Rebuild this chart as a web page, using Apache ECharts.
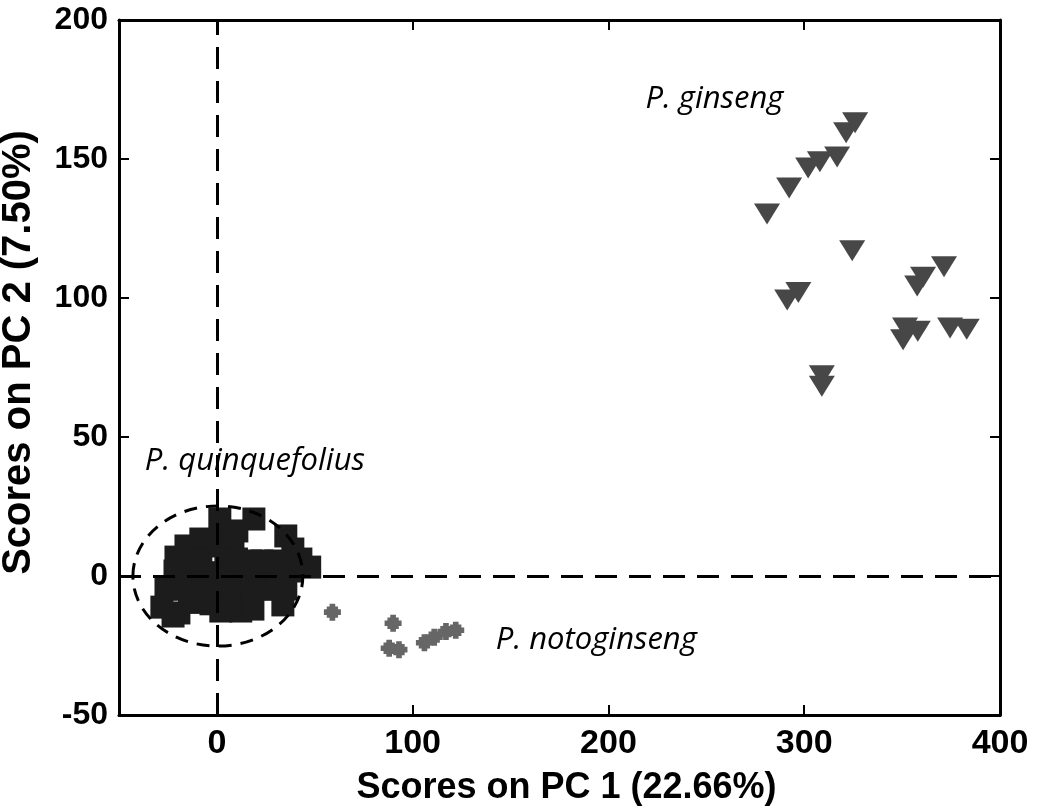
<!DOCTYPE html>
<html><head><meta charset="utf-8">
<script src="https://cdn.jsdelivr.net/npm/echarts@6/dist/echarts.min.js"></script>
<style>html,body{margin:0;padding:0;background:#fff}#c{width:1050px;height:812px}</style>
</head><body><div id="c"></div>
<script>
// ---- data (PC1, PC2 scores) ----
const ginseng = [
  [281,130.2],[292.3,139.6],[302,146.8],[308,149],[316.8,150.7],[321.4,159.4],[326,163],
  [324.5,117],[297,102],[291.3,99.3],[309,72],[309,68.3],
  [360.7,107.5],[357.7,104.3],[371.4,111.2],
  [351.5,89.2],[358,88],[350.5,85],[374.5,89.2],[383,88.8]
];
const notoginseng = [
  [59,-13],[90,-17],[88,-26],[93,-26.5],[106,-24],[111,-22],[117,-20],[122,-19.5]
];
const quinquefolius = [
  [1.5,20.5],[18.9,20.5],[10.2,16.2],[-8.2,13.3],[3.1,15.5],[-15.8,10.8],[-3.1,10.8],[8.2,10.8],
  [38.8,9.7],[35.2,14.4],[-20.9,6.8],[-8.2,6.1],[4.6,6.1],[17.3,5.4],[30.1,5.4],[42.9,6.1],
  [47.4,3.2],[-21.4,1.8],[-13.3,1.1],[-0.5,1.1],[12.2,1.1],[25,1.1],[37.8,1.8],
  [-26,-4.7],[-13.3,-4.7],[-0.5,-4.7],[12.2,-4.7],[25,-4.7],[35.2,-4.7],
  [-28.1,-11.2],[-19.4,-13.3],[-9.2,-9],[2,-12.6],[12.2,-12.6],[18.4,-11.9],[33.7,-10.4],[-22.4,-14.4],
  [-19.5,-4.7],[-7,-4.7],[6,-4.7],[18.5,-4.7],[30,-4.7],[-19.5,1.1],[-7,1.1],[6,1.1],[18.5,1.1],[31,1.1],
  [-3,-10],[6,-10.5],[-14,-9.5],[-10,6.1],[10,6.1],[23,5.4]
];
// confidence ellipse: [centerX, centerY, radiusX, radiusY]
const ellipse = [[0.5, 0, 43.4, 25.2]];
// group annotations: [x, y] anchors in data units
const groupNames = ['P. ginseng', 'P. quinquefolius', 'P. notoginseng'];
const groupAnchors = [[218.9,171.5],[-36.8,41.2],[142.5,-23.2]];
const xTickValues = [0,100,200,300,400];
const yTickValues = [-50,0,50,100,150,200];
const xName = 'Scores on PC 1 (22.66%)';
const yName = 'Scores on PC 2 (7.50%)';

const chart = echarts.init(document.getElementById('c'), null, {renderer:'canvas'});
const axisFont = {fontFamily:'Liberation Sans', fontWeight:'bold', color:'#000'};
const frameLine = {show:true, onZero:false, lineStyle:{color:'#000', width:3}};
const tickIn = {show:true, inside:true, length:10, lineStyle:{color:'#000', width:2}};

const option = {
  animation:false,
  backgroundColor:'#fff',
  grid:{left:119, right:50, top:20, bottom:97, containLabel:false, outerBoundsMode:'none'},
  xAxis:[{
    type:'value', min:-50, max:400, position:'bottom',
    axisLine:frameLine,
    axisTick:Object.assign({customValues:xTickValues}, tickIn),
    axisLabel:Object.assign({customValues:xTickValues, fontSize:34, margin:12}, axisFont),
    splitLine:{show:false},
    name:xName, nameLocation:'middle', nameGap:55,
    nameTextStyle:Object.assign({fontSize:36, padding:[0,0,0,14]}, axisFont)
  },{
    type:'value', min:-50, max:400, position:'top',
    axisLine:frameLine,
    axisTick:Object.assign({customValues:xTickValues}, tickIn),
    axisLabel:{show:false}, splitLine:{show:false}
  }],
  yAxis:[{
    type:'value', min:-50, max:200, interval:50, position:'left',
    axisLine:frameLine, axisTick:tickIn,
    axisLabel:Object.assign({fontSize:32, margin:11}, axisFont),
    splitLine:{show:false},
    name:yName, nameLocation:'middle', nameGap:80,
    nameTextStyle:Object.assign({fontSize:40, padding:[0,0,0,30]}, axisFont)
  },{
    type:'value', min:-50, max:200, interval:50, position:'right',
    axisLine:frameLine, axisTick:tickIn,
    axisLabel:{show:false}, splitLine:{show:false}
  }],
  series:[
    {
      type:'scatter', name:'P. quinquefolius', data:quinquefolius,
      symbol:'rect', symbolSize:23, itemStyle:{color:'#1c1c1c', opacity:1}, z:2
    },
    {
      type:'scatter', name:'P. notoginseng', data:notoginseng,
      symbol:'path://M4,0H8V2H10V4H12V8H10V10H8V12H4V10H2V8H0V4H2V2H4Z',
      symbolSize:17, itemStyle:{color:'#666', opacity:1}, z:2
    },
    {
      type:'scatter', name:'P. ginseng', data:ginseng,
      symbol:'triangle', symbolRotate:180, symbolSize:[26,21],
      itemStyle:{color:'#474747', opacity:1}, z:2,
      markPoint:{
        symbol:'circle', symbolSize:0, silent:true,
        label:{show:true, position:'right', distance:0, color:'#000',
          fontFamily:'Open Sans', fontStyle:'italic', fontSize:31,
          formatter:p=>p.name},
        data:groupNames.map((n,i)=>({name:n, coord:groupAnchors[i]}))
      }
    },
    {
      type:'custom', data:ellipse, z:3, silent:true,
      renderItem:(params, api)=>{
        const c = api.coord([api.value(0), api.value(1)]);
        const s = api.size([api.value(2), api.value(3)]);
        return {type:'ellipse', shape:{cx:c[0], cy:c[1], rx:s[0], ry:s[1]},
          style:{fill:null, stroke:'#000', lineWidth:3, lineDash:[13,9]}};
      }
    },
    {
      type:'line', data:[], z:4,
      markLine:{
        silent:true, symbol:'none', label:{show:false},
        lineStyle:{color:'#000', width:3, type:[22,12]},
        data:[{xAxis:0},{yAxis:0}]
      }
    }
  ]
};
chart.setOption(option);
</script></body></html>
